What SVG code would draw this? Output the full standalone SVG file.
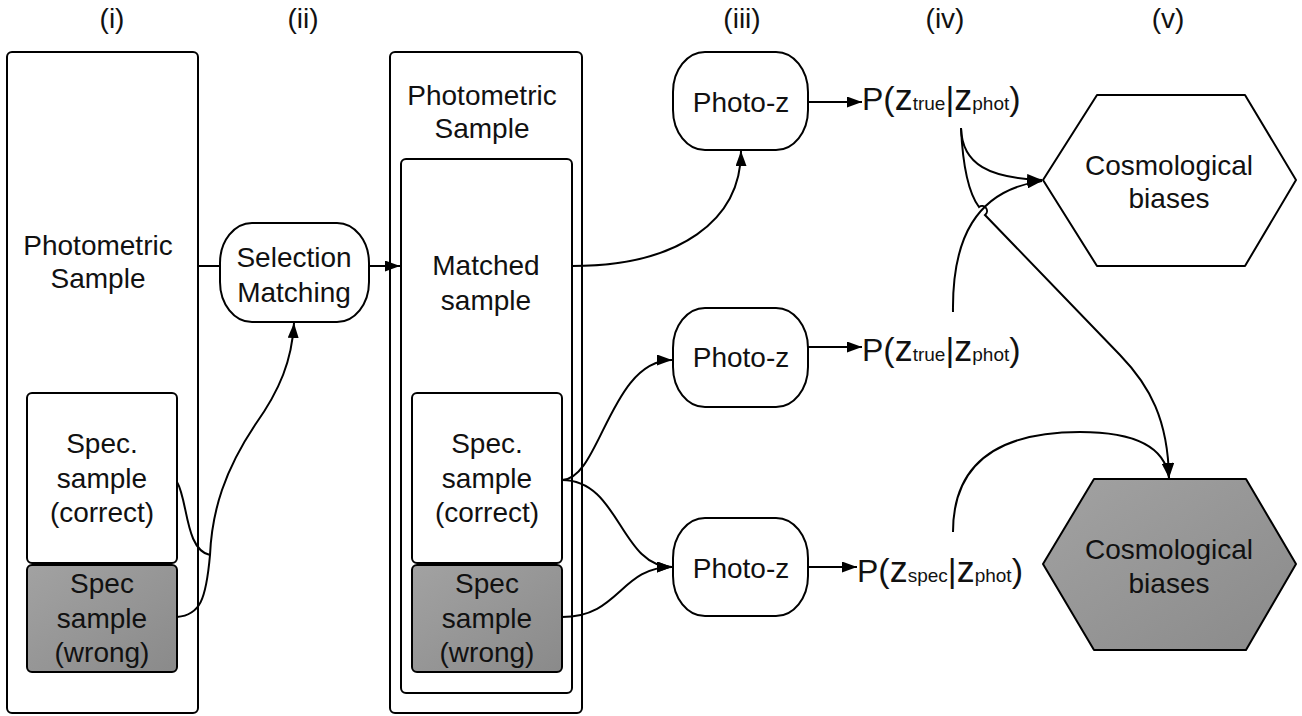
<svg xmlns="http://www.w3.org/2000/svg" width="1302" height="716" viewBox="0 0 1302 716">
<defs>
<style>
.box{fill:#fff;stroke:#000;stroke-width:2}
.dark{fill:url(#g);stroke:#000;stroke-width:2}
.t{font-family:"Liberation Sans",Arial,sans-serif;font-size:28px;fill:#111;text-anchor:middle}
.hdr{font-family:"Liberation Sans",Arial,sans-serif;font-size:28px;fill:#111;text-anchor:middle}
.p{font-family:"Liberation Sans",Arial,sans-serif;fill:#111}
.c{fill:none;stroke:#000;stroke-width:2}
</style>
<linearGradient id="g" x1="0" y1="0" x2="1" y2="1">
<stop offset="0" stop-color="#a2a2a2"/>
<stop offset="1" stop-color="#8a8a8a"/>
</linearGradient>
<marker id="ah" markerUnits="userSpaceOnUse" markerWidth="15" markerHeight="11" refX="15" refY="5.5" orient="auto">
<path d="M0,0 L15,5.5 L0,11 z" fill="#000"/>
</marker>
</defs>
<rect width="1302" height="716" fill="#fff"/>

<g id="headers">
<text class="hdr" x="112" y="28">(i)</text>
<text class="hdr" x="303" y="28">(ii)</text>
<text class="hdr" x="742" y="28">(iii)</text>
<text class="hdr" x="945" y="28">(iv)</text>
<text class="hdr" x="1168" y="28">(v)</text>
</g>

<g id="photometric-i">
<rect class="box" x="7" y="52" width="191" height="661" rx="5"/>
<text class="t" x="98" y="255">Photometric</text>
<text class="t" x="98" y="288">Sample</text>
</g>
<g id="spec-correct-i">
<rect class="box" x="27" y="393" width="150" height="170" rx="5"/>
<text class="t" x="102" y="453">Spec.</text>
<text class="t" x="102" y="488">sample</text>
<text class="t" x="102" y="522">(correct)</text>
</g>
<g id="spec-wrong-i">
<rect class="dark" x="27" y="565" width="150" height="107" rx="5"/>
<text class="t" x="102" y="593">Spec</text>
<text class="t" x="102" y="628">sample</text>
<text class="t" x="102" y="662">(wrong)</text>
</g>

<g id="selection-matching">
<rect class="box" x="220" y="223" width="149" height="99" rx="32" ry="40"/>
<text class="t" x="294" y="267">Selection</text>
<text class="t" x="294" y="302">Matching</text>
</g>

<g id="photometric-ii">
<rect class="box" x="390" y="52" width="192" height="661" rx="5"/>
<text class="t" x="482" y="105">Photometric</text>
<text class="t" x="482" y="138">Sample</text>
</g>
<g id="matched-sample">
<rect class="box" x="401" y="159" width="171" height="534" rx="5"/>
<text class="t" x="486" y="275">Matched</text>
<text class="t" x="486" y="310">sample</text>
</g>
<g id="spec-correct-ii">
<rect class="box" x="412" y="393" width="150" height="170" rx="5"/>
<text class="t" x="487" y="453">Spec.</text>
<text class="t" x="487" y="488">sample</text>
<text class="t" x="487" y="522">(correct)</text>
</g>
<g id="spec-wrong-ii">
<rect class="dark" x="412" y="565" width="150" height="107" rx="5"/>
<text class="t" x="487" y="593">Spec</text>
<text class="t" x="487" y="628">sample</text>
<text class="t" x="487" y="662">(wrong)</text>
</g>

<g id="photoz-1">
<rect class="box" x="673" y="52" width="135" height="98" rx="32" ry="40"/>
<text class="t" x="741" y="112">Photo-z</text>
</g>
<g id="photoz-2">
<rect class="box" x="673" y="308" width="135" height="99" rx="32" ry="40"/>
<text class="t" x="741" y="367">Photo-z</text>
</g>
<g id="photoz-3">
<rect class="box" x="673" y="518" width="135" height="98" rx="32" ry="40"/>
<text class="t" x="741" y="578">Photo-z</text>
</g>

<g id="p-true-1">
<text class="p" x="862" y="110"><tspan font-size="32">P</tspan><tspan font-size="34">(</tspan><tspan font-size="36">z</tspan><tspan font-size="19">true</tspan><tspan font-size="34">|</tspan><tspan font-size="36">z</tspan><tspan font-size="19">phot</tspan><tspan font-size="34">)</tspan></text>
</g>
<g id="p-true-2">
<text class="p" x="862" y="361"><tspan font-size="32">P</tspan><tspan font-size="34">(</tspan><tspan font-size="36">z</tspan><tspan font-size="19">true</tspan><tspan font-size="34">|</tspan><tspan font-size="36">z</tspan><tspan font-size="19">phot</tspan><tspan font-size="34">)</tspan></text>
</g>
<g id="p-spec">
<text class="p" x="857" y="582"><tspan font-size="32">P</tspan><tspan font-size="34">(</tspan><tspan font-size="36">z</tspan><tspan font-size="19">spec</tspan><tspan font-size="34">|</tspan><tspan font-size="36">z</tspan><tspan font-size="19">phot</tspan><tspan font-size="34">)</tspan></text>
</g>

<g id="cosmo-1">
<path class="box" d="M1043,180 L1097,95 L1245,95 L1296,180 L1245,266 L1097,266 Z" stroke-linejoin="round"/>
<text class="t" x="1169" y="175">Cosmological</text>
<text class="t" x="1169" y="208">biases</text>
</g>
<g id="cosmo-2">
<path class="dark" d="M1043,564 L1094,479 L1246,479 L1296,564 L1246,650 L1094,650 Z" stroke-linejoin="round"/>
<text class="t" x="1169" y="559">Cosmological</text>
<text class="t" x="1169" y="593">biases</text>
</g>

<g id="connectors">
<path class="c" d="M198,266 L220,266"/>
<path class="c" d="M369,266 L400,266" marker-end="url(#ah)"/>
<path class="c" d="M177,482 C188,500 185,550 210,555"/>
<path class="c" d="M177,617 C200,615 206,600 210,555"/>
<path class="c" d="M210,555 C212,510 225,470 255,425 C280,390 292,360 294,323" marker-end="url(#ah)"/>
<path class="c" d="M572,266 C680,266 741,220 741,151" marker-end="url(#ah)"/>
<path class="c" d="M562,480 C600,480 610,360 672,360" marker-end="url(#ah)"/>
<path class="c" d="M562,480 C620,480 620,567 672,567" marker-end="url(#ah)"/>
<path class="c" d="M562,617 C620,617 620,567 672,567" marker-end="url(#ah)"/>
<path class="c" d="M808,102 L862,102" marker-end="url(#ah)"/>
<path class="c" d="M808,347 L862,347" marker-end="url(#ah)"/>
<path class="c" d="M808,567 L857,567" marker-end="url(#ah)"/>
<path class="c" d="M961,128 C962,165 990,178 1042,180" marker-end="url(#ah)"/>
<path class="c" d="M953,312 C952,240 975,190 1042,181" marker-end="url(#ah)"/>
<path class="c" d="M961,128 C963,170 970,195 979,207 A3.5,3.5 0 0 1 985,215 L1120,355 C1150,386 1168,420 1169,478" marker-end="url(#ah)"/>
<path class="c" d="M953,532 C953,455 1010,432 1080,432 C1130,432 1165,445 1169,478" marker-end="url(#ah)"/>
</g>
</svg>
